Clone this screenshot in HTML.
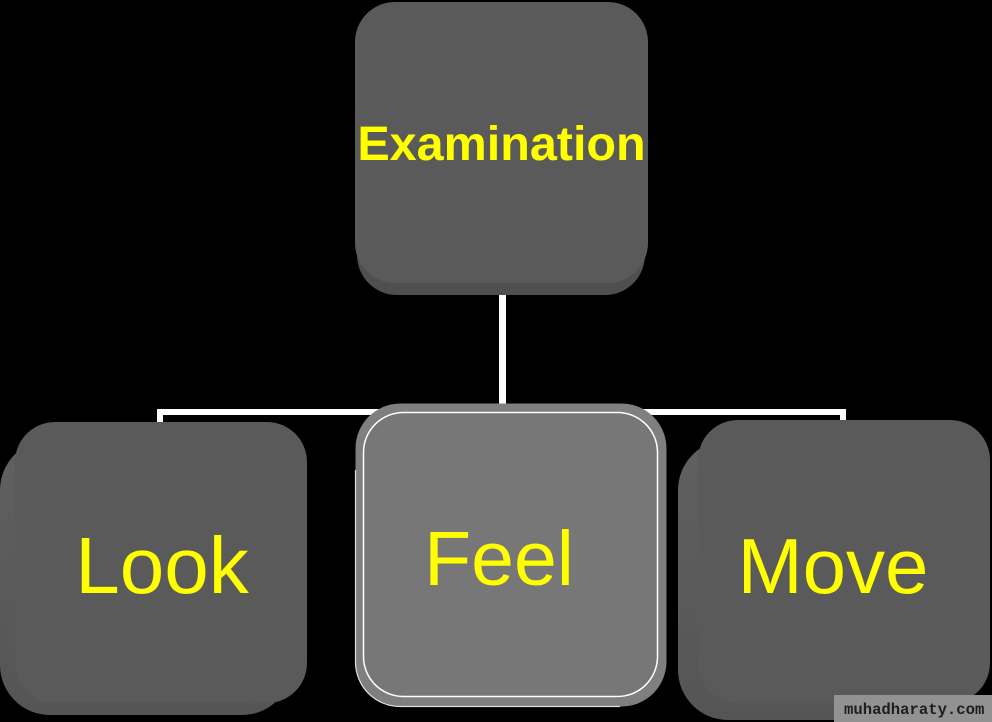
<!DOCTYPE html>
<html>
<head>
<meta charset="utf-8">
<style>
  html, body { margin: 0; padding: 0; background: #000; }
  body { width: 992px; height: 722px; overflow: hidden; }
  svg { display: block; }
</style>
</head>
<body>
<svg width="992" height="722" viewBox="0 0 992 722" xmlns="http://www.w3.org/2000/svg">
  <defs>
    <linearGradient id="sideL" x1="0" y1="0" x2="0" y2="1">
      <stop offset="0" stop-color="#606060"/>
      <stop offset="1" stop-color="#555555"/>
    </linearGradient>
  </defs>
  <rect width="992" height="722" fill="#000"/>

  <!-- connectors -->
  <rect x="499" y="290" width="7" height="125" fill="#fff"/>
  <rect x="157" y="409" width="689" height="6" fill="#fff"/>
  <rect x="157" y="409" width="6" height="14" fill="#fff"/>
  <rect x="840" y="409" width="6" height="12" fill="#fff"/>

  <!-- Top box: Examination -->
  <rect x="357" y="14" width="288" height="281" rx="40" ry="40" fill="#4f4f4f"/>
  <rect x="355" y="2" width="293" height="281" rx="40" ry="40" fill="#5a5a5a"/>
  <text x="501.5" y="160" text-anchor="middle" font-family="Liberation Sans, Arial, sans-serif" font-weight="bold" font-size="48.5" fill="#ffff00">Examination</text>

  <!-- Look -->
  <rect x="0" y="440" width="292" height="275" rx="50" ry="50" fill="url(#sideL)"/>
  <rect x="15" y="422" width="292" height="281" rx="40" ry="40" fill="#5a5a5a"/>
  <text x="162" y="593" text-anchor="middle" font-family="Liberation Sans, Arial, sans-serif" font-size="80" fill="#ffff00">Look</text>

  <!-- Feel -->
  <rect x="355.5" y="403.5" width="311" height="303" rx="45" ry="45" fill="#7f7f7f"/>
  <path d="M355.5 470 L355.5 662 A44.5 44.5 0 0 0 400 706.5 L620 706.5" fill="none" stroke="#e0e0e0" stroke-width="1.2"/>
  <rect x="363.5" y="412.5" width="294" height="284" rx="40" ry="40" fill="#777777" stroke="#ffffff" stroke-width="1.5"/>
  <text x="499" y="585" text-anchor="middle" font-family="Liberation Sans, Arial, sans-serif" font-size="77" fill="#ffff00">Feel</text>

  <!-- Move -->
  <rect x="678" y="440" width="292" height="280" rx="50" ry="50" fill="url(#sideL)"/>
  <rect x="698" y="420" width="292" height="283" rx="40" ry="40" fill="#5a5a5a"/>
  <text x="833" y="593" text-anchor="middle" font-family="Liberation Sans, Arial, sans-serif" font-size="78" fill="#ffff00">Move</text>

  <!-- watermark -->
  <rect x="834" y="695" width="158" height="27" fill="#929292"/>
  <text x="844" y="714" font-family="Liberation Mono, monospace" font-weight="bold" font-size="15.6" fill="#1e1e1e">muhadharaty.com</text>
</svg>
</body>
</html>
